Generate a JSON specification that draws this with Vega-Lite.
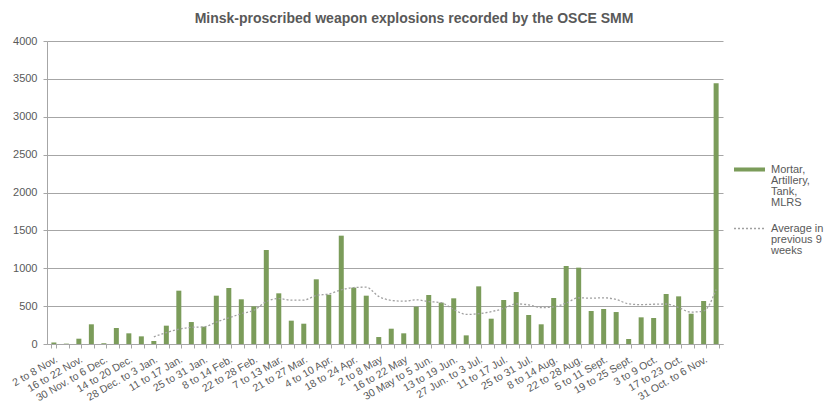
{
  "$schema": "https://vega.github.io/schema/vega-lite/v6.json",
  "width": 676,
  "height": 303,
  "autosize": {"type": "none"},
  "padding": {"left": 47, "top": 41, "right": 107, "bottom": 62},
  "background": "white",
  "config": {"view": {"stroke": null}, "font": "Liberation Sans"},
  "title": {
    "text": "Minsk-proscribed weapon explosions recorded  by the OSCE SMM",
    "fontSize": 14,
    "fontWeight": "bold",
    "color": "#595959",
    "font": "Liberation Sans",
    "anchor": "middle",
    "frame": "group",
    "dx": 29,
    "offset": 9
  },
  "data": {
    "values": [
      {"week": "2 to 8 Nov.", "explosions": 20},
      {"week": "9 to 15 Nov.", "explosions": 5},
      {"week": "16 to 22 Nov.", "explosions": 70},
      {"week": "23 to 29 Nov.", "explosions": 260},
      {"week": "30 Nov. to 6 Dec.", "explosions": 10},
      {"week": "7 to 13 Dec.", "explosions": 211},
      {"week": "14 to 20 Dec.", "explosions": 141},
      {"week": "21 to 27 Dec.", "explosions": 101},
      {"week": "28 Dec. to 3 Jan.", "explosions": 40, "avg": 95},
      {"week": "4 to 10 Jan.", "explosions": 242, "avg": 150},
      {"week": "11 to 17 Jan.", "explosions": 704, "avg": 195},
      {"week": "18 to 24 Jan.", "explosions": 290, "avg": 220},
      {"week": "25 to 31 Jan.", "explosions": 229, "avg": 225},
      {"week": "1 to 7 Feb.", "explosions": 638, "avg": 290},
      {"week": "8 to 14 Feb.", "explosions": 739, "avg": 345},
      {"week": "15 to 21 Feb.", "explosions": 590, "avg": 400},
      {"week": "22 to 28 Feb.", "explosions": 497, "avg": 445},
      {"week": "29 Feb. to 6 Mar.", "explosions": 1241, "avg": 560},
      {"week": "7 to 13 Mar.", "explosions": 669, "avg": 600},
      {"week": "14 to 20 Mar.", "explosions": 308, "avg": 578},
      {"week": "21 to 27 Mar.", "explosions": 268, "avg": 580},
      {"week": "28 Mar. to 3 Apr.", "explosions": 854, "avg": 640},
      {"week": "4 to 10 Apr.", "explosions": 651, "avg": 660},
      {"week": "11 to 17 Apr.", "explosions": 1430, "avg": 715},
      {"week": "18 to 24 Apr.", "explosions": 744, "avg": 745},
      {"week": "25 Apr. to 1 May", "explosions": 638, "avg": 750},
      {"week": "2 to 8 May", "explosions": 92, "avg": 628},
      {"week": "9 to 15 May", "explosions": 202, "avg": 576},
      {"week": "16 to 22 May", "explosions": 141, "avg": 565},
      {"week": "23 to 29 May", "explosions": 493, "avg": 583},
      {"week": "30 May to 5 Jun.", "explosions": 647, "avg": 560},
      {"week": "6 to 12 Jun.", "explosions": 546, "avg": 545},
      {"week": "13 to 19 Jun.", "explosions": 603, "avg": 456},
      {"week": "20 to 26 Jun.", "explosions": 114, "avg": 390},
      {"week": "27 Jun. to 3 Jul.", "explosions": 761, "avg": 400},
      {"week": "4 to 10 Jul.", "explosions": 334, "avg": 427},
      {"week": "11 to 17 Jul.", "explosions": 581, "avg": 469},
      {"week": "18 to 24 Jul.", "explosions": 686, "avg": 529},
      {"week": "25 to 31 Jul.", "explosions": 383, "avg": 517},
      {"week": "1 to 7 Aug.", "explosions": 260, "avg": 480},
      {"week": "8 to 14 Aug.", "explosions": 607, "avg": 490},
      {"week": "15 to 21 Aug.", "explosions": 1030, "avg": 540},
      {"week": "22 to 28 Aug.", "explosions": 1008, "avg": 610},
      {"week": "29 Aug. to 4 Sept.", "explosions": 436, "avg": 605},
      {"week": "5 to 11 Sept.", "explosions": 462, "avg": 610},
      {"week": "12 to 18 Sept.", "explosions": 422, "avg": 588},
      {"week": "19 to 25 Sept.", "explosions": 66, "avg": 530},
      {"week": "26 Sept. to 2 Oct.", "explosions": 352, "avg": 520},
      {"week": "3 to 9 Oct.", "explosions": 343, "avg": 525},
      {"week": "10 to 16 Oct.", "explosions": 660, "avg": 528},
      {"week": "17 to 23 Oct.", "explosions": 629, "avg": 480},
      {"week": "24 to 30 Oct.", "explosions": 400, "avg": 421},
      {"week": "31 Oct. to 6 Nov.", "explosions": 568, "avg": 436},
      {"week": "7 to 13 Nov.", "explosions": 3441, "avg": 720}
    ]
  },
  "encoding": {
    "x": {
      "field": "week",
      "type": "ordinal",
      "sort": null,
      "scale": {"paddingInner": 0.6, "paddingOuter": 0.35},
      "axis": {
        "title": null,
        "labelAngle": -30,
        "labelAlign": "right",
        "labelBaseline": "top",
        "labelFontSize": 10.5,
        "labelColor": "#595959",
        "labelFont": "Liberation Sans",
        "labelExpr": "indexof(domain('x'), datum.value) % 2 == 0 ? datum.label : ''",
        "labelOverlap": false,
        "labelBound": false,
        "tickBand": "extent",
        "tickSize": 4,
        "tickColor": "#a6a6a6",
        "domainColor": "#a6a6a6",
        "labelPadding": 6,
        "grid": false
      }
    },
    "y": {
      "type": "quantitative",
      "scale": {"domain": [0, 4000], "nice": false},
      "axis": {
        "title": null,
        "values": [0, 500, 1000, 1500, 2000, 2500, 3000, 3500, 4000],
        "format": "d",
        "labelOverlap": false,
        "grid": true,
        "gridColor": "#a6a6a6",
        "domainColor": "#a6a6a6",
        "tickColor": "#a6a6a6",
        "tickSize": 4,
        "labelPadding": 6,
        "labelFontSize": 11,
        "labelColor": "#595959",
        "labelFont": "Liberation Sans"
      }
    }
  },
  "layer": [
    {
      "mark": {"type": "bar"},
      "encoding": {
        "y": {"field": "explosions"},
        "color": {
          "datum": "Mortar, Artillery, Tank, MLRS",
          "scale": {"range": ["#7b9c5a"]},
          "legend": {
            "orient": "none",
            "legendX": 686,
            "legendY": 112,
            "title": null,
            "symbolType": "M-1,-0.13H1V0.13H-1Z",
            "symbolSize": 961,
            "labelFontSize": 11,
            "labelColor": "#595959",
            "labelFont": "Liberation Sans",
            "labelBaseline": "top",
            "labelOffset": 5,
            "labelExpr": "split(datum.label, ' ')",
            "encode": {"labels": {"update": {"dy": {"value": -6}, "lineHeight": {"value": 11.3}}}}
          }
        }
      }
    },
    {
      "mark": {"type": "line", "interpolate": "monotone", "strokeDash": [2, 2], "strokeWidth": 1.3},
      "encoding": {
        "y": {"field": "avg"},
        "stroke": {
          "datum": "Average in previous 9 weeks",
          "scale": {"range": ["#a0a0a0"]},
          "legend": {
            "orient": "none",
            "legendX": 686,
            "legendY": 171,
            "title": null,
            "symbolType": "stroke",
            "symbolSize": 961,
            "symbolDash": [2, 2],
            "symbolStrokeWidth": 1.3,
            "labelFontSize": 11,
            "labelColor": "#595959",
            "labelFont": "Liberation Sans",
            "labelBaseline": "top",
            "labelOffset": 5,
            "labelExpr": "[slice(datum.label, 0, 10), slice(datum.label, 11, 21), slice(datum.label, 22)]",
            "encode": {"labels": {"update": {"dy": {"value": -6}, "lineHeight": {"value": 11.3}}}}
          }
        }
      }
    }
  ]
}
